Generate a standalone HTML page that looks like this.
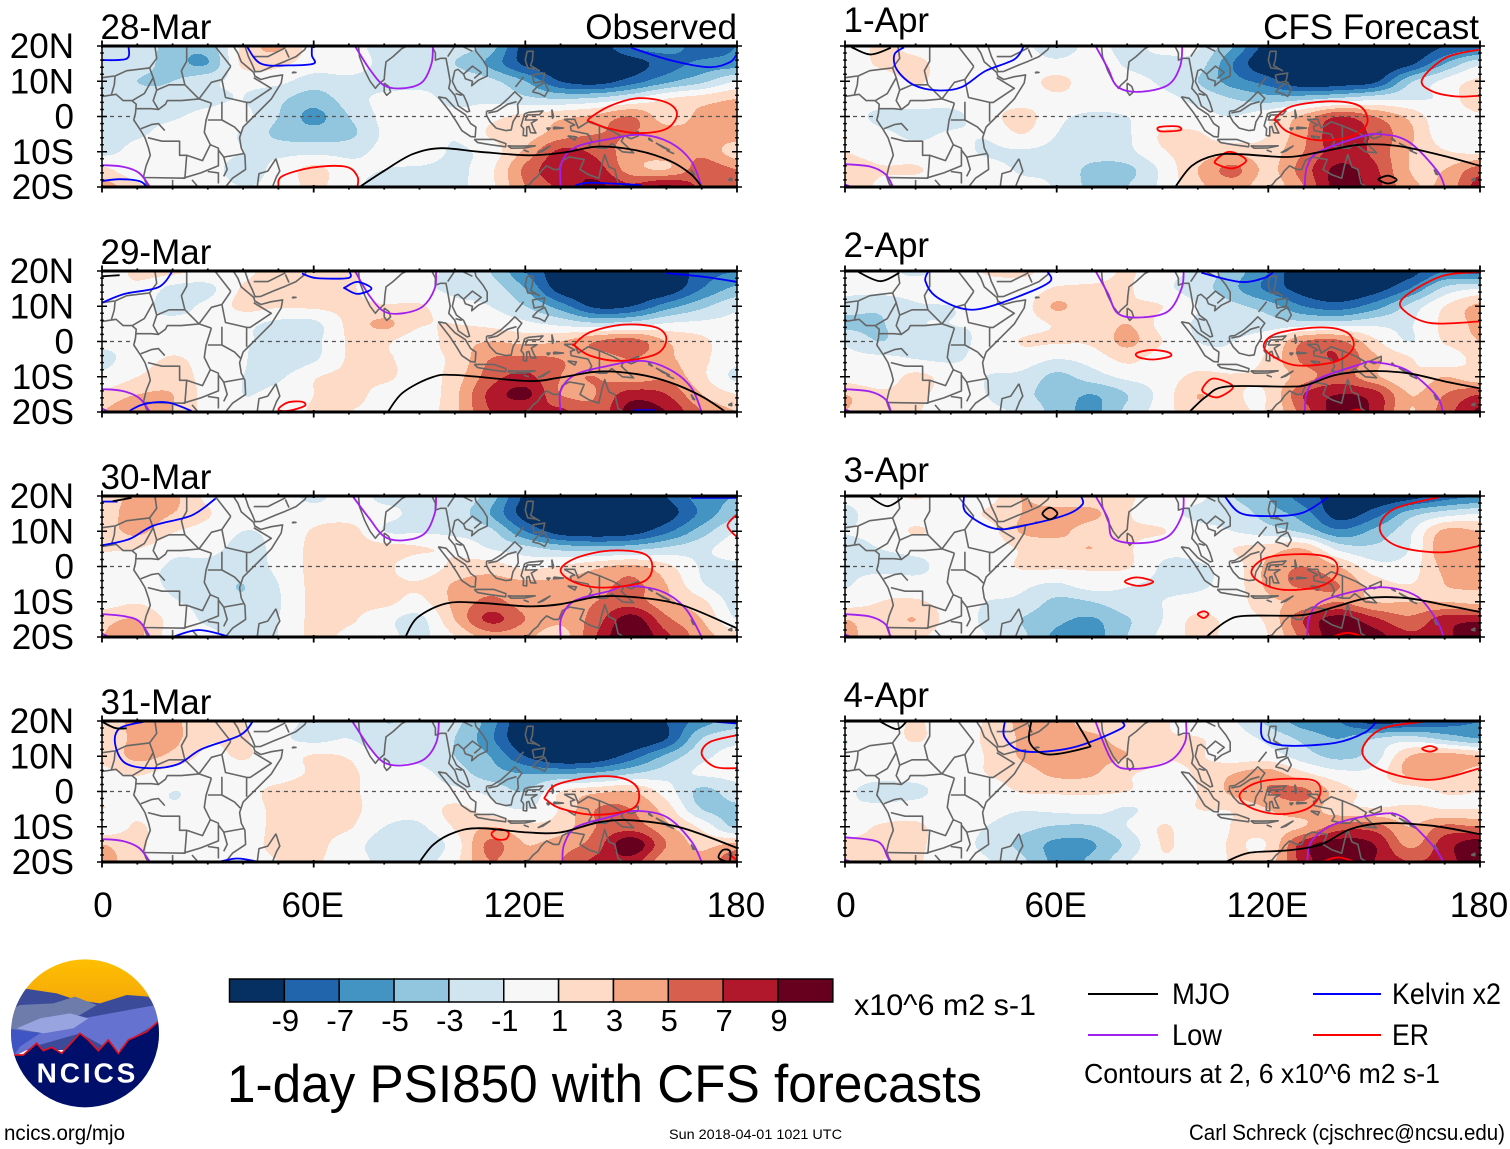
<!DOCTYPE html>
<html lang="en">
<head>
<meta charset="utf-8">
<title>1-day PSI850 with CFS forecasts</title>
<style>
html,body{margin:0;padding:0;background:#fff;}
svg{display:block;}
text{font-family:"Liberation Sans",sans-serif;fill:#000;}
</style>
</head>
<body>
<svg id="chart" xmlns="http://www.w3.org/2000/svg" width="1510" height="1149" viewBox="0 0 1510 1149">
  <rect x="0" y="0" width="1510" height="1149" fill="#fff"/>
  <g id="panels"></g>

  <g id="colorbar"></g>
  <text x="854" y="1015" font-size="30" textLength="182" lengthAdjust="spacingAndGlyphs">x10^6 m2 s-1</text>
  <text x="227" y="1102" font-size="53" textLength="755" lengthAdjust="spacingAndGlyphs">1-day PSI850 with CFS forecasts</text>

  <g>
    <line x1="1088" x2="1158" y1="994" y2="994" stroke="#000" stroke-width="2"/>
    <text x="1172" y="1004" font-size="30" textLength="58" lengthAdjust="spacingAndGlyphs">MJO</text>
    <line x1="1088" x2="1158" y1="1035" y2="1035" stroke="#a020f0" stroke-width="2"/>
    <text x="1172" y="1045" font-size="30" textLength="50" lengthAdjust="spacingAndGlyphs">Low</text>
    <line x1="1313" x2="1381" y1="994" y2="994" stroke="#0000ff" stroke-width="2"/>
    <text x="1392" y="1004" font-size="30" textLength="109" lengthAdjust="spacingAndGlyphs">Kelvin x2</text>
    <line x1="1313" x2="1381" y1="1035" y2="1035" stroke="#ff0000" stroke-width="2"/>
    <text x="1392" y="1045" font-size="30" textLength="37" lengthAdjust="spacingAndGlyphs">ER</text>
    <text x="1084" y="1083" font-size="28" textLength="356" lengthAdjust="spacingAndGlyphs">Contours at 2, 6 x10^6 m2 s-1</text>
  </g>

  <text x="4" y="1140" font-size="21" textLength="121" lengthAdjust="spacingAndGlyphs">ncics.org/mjo</text>
  <text x="669" y="1139" font-size="14" textLength="173" lengthAdjust="spacingAndGlyphs">Sun 2018-04-01 1021 UTC</text>
  <text x="1189" y="1140" font-size="22" textLength="316" lengthAdjust="spacingAndGlyphs">Carl Schreck (cjschrec@ncsu.edu)</text>

  <g transform="translate(0,950) scale(0.33333)">
    <defs>
      <clipPath id="logoClip"><circle cx="255" cy="250" r="222"/></clipPath>
      <linearGradient id="sunGrad" x1="0" y1="0" x2="0" y2="1"><stop offset="0" stop-color="#ffc000"/><stop offset="1" stop-color="#f2a20c"/></linearGradient>
    </defs>
    <g clip-path="url(#logoClip)">
      <rect x="20" y="20" width="470" height="180" fill="url(#sunGrad)"/>
      <polygon points="20,200 70,115 170,130 230,150 300,160 380,135 445,140 490,200 490,300 20,300" fill="#3c4a9a"/>
      <polygon points="30,180 60,165 160,160 225,140 290,165 240,195 100,250 25,240" fill="#6d7cab"/>
      <polygon points="20,235 130,250 100,290 40,320 20,320" fill="#3f55c4"/>
      <polygon points="250,205 330,190 470,165 490,210 385,270 350,310 240,250 100,290 40,320 60,290 120,250 220,235" fill="#6672d0"/>
      <polygon points="50,235 120,205 210,190 265,205 220,235 130,250" fill="#98a4e0"/>
      <polygon points="20,315 70,315 110,280 130,302 155,292 185,310 240,250 265,270 295,302 325,270 355,310 385,270 440,245 490,205 490,490 20,490" fill="#00106a"/>
      <polyline points="40,315 70,315 110,280 130,302 155,292 185,310 240,250 265,270 295,302 325,270 355,310 385,270 440,245 480,210" fill="none" stroke="#e01020" stroke-width="5"/>
    </g>
    <text x="258" y="398" font-size="84" font-weight="bold" text-anchor="middle" style="fill:#fff" textLength="296" lengthAdjust="spacing">NCICS</text>
  </g>
</svg>

<script>
/* ---------- Gridded PSI850 anomalies: rows lat 20,15,...,-20; columns lon 0,10,...,180 ---------- */
const gridLons = [0,10,20,30,40,50,60,70,80,90,100,110,120,130,140,150,160,170,180];
const gridLats = [20,15,10,5,0,-5,-10,-15,-20];

const psi28Mar = [
[-2,-1.5,-4,-4,1.5,3.5,0,0,-2,-2,-2,-4,-10,-11,-10.5,-7,-6,-8,-7],
[-1.5,-2,-4,-5,1.5,1.5,0,0,-1.5,-2,-3,-5.5,-9.5,-11,-11,-10,-8,-6.5,-6],
[-1.2,-3,-3,-1.5,-0.5,-0.5,-2,-1.5,-1.8,-1.5,-1.5,-2.5,-5,-9,-10,-8,-5.5,-3.5,-1],
[-1.5,-2,-2.2,-1.5,-1,-2.5,-4,-2,-0.5,-0.5,-1.5,-1.5,-2.5,-3,-2.5,-1,1,2,3],
[-1.5,-1.5,-1.2,-0.5,-0.5,-3,-5.5,-3,-0.5,0,-0.5,0.5,1.5,2.5,3.5,5,2,3.5,4],
[-1.5,-1.2,-0.5,-0.5,-1.2,-3.5,-4,-3.5,-0.7,0,-0.8,1.2,2,4,5,5,4,3.5,4],
[-1.5,-0.5,-0.5,-0.5,-1,-1.5,-1.5,-1.5,-0.5,0.5,-1.3,0,3.5,7.5,6.5,4,4,4.5,2],
[1.5,-0.5,-0.5,-0.5,-1.5,-0.5,1.5,-0.5,-1,-1.3,-1.5,0.5,5.5,8.5,8,4,3,6,5],
[4,1.5,-0.5,-0.5,-1,-0.5,1.5,-0.5,-1.5,-1.5,-1.5,0.5,5,7.5,9.5,7.5,9.5,6.5,5.5]];

const psi29Mar = [
[-0.5,1.5,1.5,0.5,0.5,2,1.5,1.5,-0.2,-0.5,-1.5,-3,-7,-10.5,-11,-11,-11,-8,-7],
[0,0.5,-1.5,-1.5,1.2,1.5,1.3,1.2,0,-0.5,-1.5,-2,-5,-10,-11,-11,-10.5,-7,-4.5],
[-0.5,-0.5,-1.5,-0.5,1.5,1.2,1.3,1.5,1.2,1.2,-0.3,-1,-3,-6,-9.5,-9,-6,-3.5,-1.5],
[0,-0.5,-0.5,-0.5,-0.5,-1.5,-1.5,1.5,3.4,1.2,1,0.5,-0.5,-1.5,-2.5,-2,-0.8,-0.5,-0.5],
[-0.5,-0.5,0.2,-0.2,-0.8,-1.5,-1.5,1.2,1.3,0,2,3,2.5,3,5,6,3,1.5,-0.5],
[-1.5,0,1.2,0.2,-0.8,-2.5,-1.3,1.2,1.2,0.5,1.5,5,5.5,5,4,5,3.5,1.5,-0.5],
[-0.5,1,2,0.2,-1,-1.3,0.8,1.5,1.5,0,2,6,7.5,5,5,4,4.5,1.5,-1.5],
[1.5,3,3,0.2,-1,-0.5,1,2,0,-0.5,2.5,7.5,9.5,5,5,8,7,3,1],
[3,5,3,0.2,-0.8,0,1.2,1,0,-0.2,2.5,7,7,7.5,5.5,10,9,5,3]];

const psi30Mar = [
[2,3.5,3.5,0.5,0,0,-1.5,0,-1.5,-1,-1.5,-4,-9.5,-11,-11,-11,-9,-6,-5],
[2,4,3,1.2,-0.5,0,0,0,-0.5,-1.5,-2,-5,-10,-11,-11,-11,-10,-6.5,-3.5],
[2,3.5,1.2,0.2,-1,-0.5,1.2,1.8,-1,-1.2,-1.5,-2.5,-7,-10,-10.5,-10,-7.5,-4,-1],
[1.2,1,-0.5,-0.5,-1.5,-0.5,1.5,1.8,1.8,1.2,0.5,-1,-2.2,-3.5,-4,-3.5,-2.5,-1.5,0],
[0,-0.3,-1.2,-1.5,-2,-0.5,1.5,1.8,1.5,-0.2,1.5,2,0.5,1.2,2.5,3.5,1.5,-1.2,-1.5],
[0,-0.3,-1.3,-2,-3,-1,1.5,1.6,1.5,1.2,3.2,4,3.5,3.5,4,5.5,3,-0.8,-2.5],
[0,0.8,-0.8,-1.5,-2.7,-1.2,1.5,1.5,1.5,0.5,3.5,5.5,4,3.5,5,6,3.5,1.5,-2],
[2.5,3,0.2,-1.3,-1.8,-1,1.5,1.3,-0.3,-1.5,3,7.5,5,3.5,6,10,5.5,3,-1],
[3,3.5,0,-0.5,-1.5,-1,1.5,0.5,-0.3,-1.5,1,4,3.5,2,7,11,7.5,4,2]];

const psi31Mar = [
[2,3.5,3.5,1.2,1,0,-1.5,-1.2,-3,-2.5,-2.5,-6,-11,-11,-11,-11,-9,-6,-4],
[1.5,3.5,3.5,1.2,1.2,-0.5,-1.5,-1,-2.5,-2,-3,-6.5,-11,-11,-11,-11,-9,-3,-1.5],
[1.5,3.5,2.5,0.5,1.2,0,1.2,0.8,-1.3,-1.5,-3,-5,-9,-11,-10.5,-8,-4.5,-1.5,-0.5],
[0.5,1.2,0,-0.5,0,-0.5,1.5,1.5,-0.5,-0.5,-2,-4,-5,-5,-4.5,-3,-1.8,-0.8,-0.5],
[0.5,0,-1,-0.5,-0.2,2,3,1.5,0,-0.5,-0.5,-1.5,-3,1,2.5,3,0,-3.5,-1.8],
[1,0.5,-0.8,0,0,1.5,1.5,1.5,0,-0.3,1.5,0,-1,1.2,5,5,2,-3,-3.5],
[-0.5,1.2,-0.3,0,0,1.5,1.5,1.2,-1,-1.3,1.2,3,1.5,2,5,6,3.5,0.5,-3.5],
[3,1.5,-0.3,-0.2,0.5,1.3,1.5,0,-2,-2.5,0,5.5,3,4,6,10.5,5,2.5,3.5],
[4,1.5,-0.3,-0.2,0.5,1,1.2,0,-1.5,-1.8,0.5,5,3,5,7.5,8,3.5,3.5,7]];

const psi1Apr = [
[-0.3,1.3,0.3,-0.3,0,-0.5,-2,-0.5,-1.5,-0.5,-0.8,-5,-10,-11,-11,-11,-11,-9,-8],
[-0.3,1.3,1.5,0,0,0,-0.5,0,-1.2,-1.5,-2,-7,-11,-11,-11,-11,-9.5,-5,-1.5],
[0,0,1.2,0,0,0,1.5,-0.2,-0.5,-1.3,-3,-6,-8,-11,-10.5,-9.5,-3.5,-0.5,1.5],
[0,0,0,-0.2,0,0,0.5,0,-0.2,-0.5,-1.5,-3,-4,-3.5,-2.5,-1.5,-1.2,-0.5,3],
[0,-1.5,-1.5,-1.5,0,1.8,-0.5,-1.3,-1,-0.3,-0.3,-1,0.5,3.5,7,5,2.5,-0.5,0.5],
[1,-0.5,-1.3,-0.8,-0.8,1,-1,-1.5,-1.2,1.2,1.2,-0.3,1,4.5,8.5,6.5,3.5,-0.3,-0.5],
[1,0,-0.3,-0.3,-1.2,-1.2,-1.5,-2,-1.5,0.8,1.8,2.5,2,5,8,6.5,3,1.2,0.5],
[2.5,1.2,1.2,0,-0.3,-1.2,-1.5,-3.5,-3.5,-0.5,3,5.5,2.5,6,9.5,7.5,3,3,6],
[3,0.5,0,0,-0.3,-0.5,-1.2,-3.5,-3,-0.5,2.5,4,2,5,10,8,3.5,3.5,8]];

const psi2Apr = [
[-0.5,-0.5,-1.3,-0.3,1.2,1.5,0,0,1.2,-0.3,-1.5,-4,-7,-11,-11,-11,-10,-7,-8],
[-0.5,-0.3,-0.3,0,0,0,1.2,1.3,1.2,-0.5,-2,-4.5,-7.5,-10,-11,-10,-7,-2.5,-1],
[-2,-2.5,-1.2,-1,-0.3,0,3.3,1.2,1.3,1,-1,-2.5,-4,-7,-8,-6,-2.5,1,3.5],
[-3.5,-3.2,-1.2,-1,-0.8,0,1.2,1.2,3,0.3,-1.2,-1.5,-2,-2,-2,-1.5,-1.2,1.5,3.5],
[-1.3,-3,-1.3,-1.3,-0.6,1.1,1.2,1.3,3.5,1,-1,-1,0.5,5,5.5,1.5,-1,1.2,3],
[-0.5,-0.5,-1,-1.2,-0.5,0,-1,-0.2,1.5,0,0,-0.3,1.5,5.5,7,3.5,1.2,-0.2,1.8],
[0,-0.3,1.5,0,-1,-1.5,-3.5,-2,-0.5,0,1.5,1.2,1.5,4,6,3.5,1.2,3,1.5],
[3,1.5,1.5,0,-1,-2.5,-3.8,-5,-3,-0.2,3,1.3,1.2,7,9,8,3,5,7],
[3,2,1.2,-0.2,-0.5,-1.5,-3.8,-5.5,-2.5,0,2.5,1.5,1.2,6,10,8.5,3,6,9.5]];

const psi3Apr = [
[-0.5,0,1.2,0,0,3,1.5,1.5,1.3,-0.2,-0.5,-3,-5,-8,-10,-11,-10,-8,-7],
[-1.5,0,0,0,1.2,3,3.8,3.5,1.2,-0.2,-1.5,-1.7,-4,-6,-10,-8,-4,-2,-1],
[-1,-0.5,1.2,0,0,3.2,3.5,2,1.3,1.1,-0.3,-1,-2,-3.5,-6.5,-4.5,-1.5,3.5,3],
[-1.3,-1,-0.5,-0.5,-0.2,1.2,2,3,1.3,-0.3,-0.3,1,2,3,-1.5,-2.5,-1,4.5,4],
[-1.2,-1.5,-1.3,-0.5,-0.3,1.2,1.3,1.3,1.2,-1.2,-1.2,0,3.5,5,3,-0.2,0,3.5,3.5],
[-1.2,0,-0.4,-0.5,0,-0.5,-1.2,0,-0.8,-1.3,-1.3,0,3.5,5.5,5,2,1,3,3.5],
[0,1,1.3,0,-1,-1.5,-3.5,-3,-1.5,-1,-0.3,0,2.5,3.5,5,3,3,3,2.5],
[3,2,3,0,-1.3,-3,-4.5,-5.2,-3.2,-1,1.5,0.5,1.5,7,10,7.5,5.5,8,8.5],
[3.5,2,1.5,-0.3,-1,-2.5,-5.5,-5.8,-3,-0.5,1.5,0.5,1,6,11,10,7.5,8.5,11]];

const psi4Apr = [
[0,0,1.2,0,1.2,3.5,4,1.8,1.2,1.2,-0.2,-0.8,-3.5,-6,-7,-10,-9,-8,-7],
[-1,-0.2,1.2,0,1.3,3.2,3.5,3.5,2,1.1,1.1,0,-1.5,-3.5,-5,-3,-2,-3.5,-5],
[-0.8,0,0,0,1.1,3.2,4,3.5,3,1.2,1.2,0,0,-2,-3.5,-2,3,4,3],
[-0.6,-0.5,-0.2,0,1,2,3.4,3.2,1.3,0.5,1.2,3,4,1.5,-0.3,-0.2,3.5,3.5,2],
[-0.8,-1.5,-1.5,0,0,1.1,1.3,1.3,1,0,1,3.5,5,5.5,2,0.3,0,1.2,1],
[-0.8,-0.5,0,0,-0.2,-0.8,-0.5,-0.2,-1.2,0,1,1.2,3,4,1.8,1.2,1.5,1,1],
[0,1.2,1.3,0,-1,-2.3,-3.2,-3.2,-1,1.1,0,1.1,2,3,6,6,3,5.5,5],
[1.5,1.3,1.3,0,-1.5,-3.5,-5.5,-5.2,-2.5,1.1,0,1.2,1.2,8,10,9,4.5,8,10.5],
[2.5,1,1.2,-0.2,-0.8,-2.5,-5.5,-4.5,-1.2,0.8,0,1.2,2,8,10.5,9,7,8,11]];

/* ---------- Wave contours as [lon, lat] lines; a line whose first point equals its last is closed ---------- */
const contours28Mar = {
 mjo:[[[73,-20],[80,-15.4],[88,-10.7],[96,-9],[107,-10],[121,-11],[131,-10.2],[141,-8.5],[152,-9.7],[161,-12.6],[167,-16.4],[170,-20]]],
 kelvin:[[[0,16],[7,16.4],[7.5,20]],[[41,20],[45,15],[53,14.5],[60,15],[59.5,17.3],[59.5,20]],[[150,19.5],[161,16],[172,14],[178,15.4],[180,17.8]],[[0,-18.3],[5,-17.8],[10.5,-18.3],[12.5,-19.7]],[[133.5,-20],[138,-18.8],[153,-19.5]]],
 low:[[[71.7,20],[75.8,13.5],[80,8.8],[85.3,8],[90.7,9.7],[93.4,15],[93.8,20]],[[0,-13.8],[5.7,-14.2],[10.5,-16],[13.6,-20]],[[130,-20],[130.2,-13.5],[134,-8.8],[143.7,-6.4],[153,-5.2],[161,-7.4],[167,-12.6],[170,-20]]],
 er:[[[138,-0.7],[144,3],[152,5.2],[160,4],[163,0.7],[160,-3.5],[152,-4.7],[144,-3.5],[139,-1.7],[138,-0.7]],[[50,-20],[51,-17],[59.4,-14.5],[69,-14.2],[72.4,-17],[72.4,-20]]]
};
const contours29Mar = {
 mjo:[[[81,-20],[85.3,-14.5],[93.4,-10.2],[100.2,-9.5],[120.6,-11.2],[130,-10.2],[141,-8.5],[152,-9.3],[161,-11.6],[169.7,-15.4],[176.4,-19.7]],[[0,18.5],[5,18.8]]],
 kelvin:[[[0,11],[6.4,13.5],[16,15.4],[20,20]],[[56.7,19.3],[60.8,18],[69.7,18],[70.3,19.7]],[[69,15.4],[72.4,16.9],[76.4,15],[72.4,13.5],[69,15],[69,15.4]],[[160,19.4],[171,18.3],[180,16.9]],[[7.8,-19.7],[11.8,-17.8],[18.6,-17.3],[25.4,-19.7]],[[150.5,-19.5],[156.7,-19.5]]],
 low:[[[71.7,20],[75.8,13],[80,8.5],[85.3,8],[91,10],[94.3,15],[94.7,20]],[[0,-13.5],[5.7,-14],[10.5,-16],[13.6,-20]],[[0,-19],[2,-20]],[[130,-20],[130,-14],[134,-9.5],[143,-7],[153,-5.5],[161,-8],[167,-13],[170,-20]]],
 er:[[[134,-0.7],[138.3,2.6],[147.8,4.8],[157,4],[160,0.7],[157,-3.6],[146.5,-5.5],[138.3,-4],[134,-1.2],[134,-0.7]],[[50,-19.3],[52.6,-17.3],[56.7,-17.1],[57.4,-18.3],[52.6,-19.7],[50,-19.3]]]
};
const contours30Mar = {
 mjo:[[[86,-20],[89.4,-14.5],[97.5,-10.5],[107,-10.3],[120.6,-11.3],[130,-10.7],[141,-8.5],[152,-8.8],[164.6,-11],[180,-17.5]],[[3,18.5],[8.4,19.5]]],
 kelvin:[[[0,6],[7.8,7.8],[14.6,11.6],[25.4,14.5],[32.2,19.3]],[[167,19.5],[180,19.5]],[[20,-20],[27.5,-18],[36.3,-20]],[[0,18.4],[4.4,18.4]]],
 low:[[[71,20],[75.8,13.6],[80,8.5],[85.3,7.4],[91.4,9.3],[94.3,15],[94.7,20]],[[0,-13.5],[5.7,-14],[10.5,-15.5],[13.6,-20]],[[0,-19],[2,-20]],[[130,-20],[130.2,-14.5],[134,-9.7],[143.7,-7],[149,-5.5],[158.5,-7],[165.3,-11.8],[170,-20]]],
 er:[[[130,-1],[134.6,2.5],[144,4.5],[153.4,3.7],[156,0],[153.4,-4.3],[142.4,-6],[134,-4.5],[130,-1]],[[180,14.8],[177.3,11.6],[180,8.3]]]
};
const contours31Mar = {
 mjo:[[[90,-20],[94,-15],[100,-11.6],[107,-10.4],[120.6,-11.6],[130,-11.6],[141,-8.7],[150.5,-8.2],[164,-10.2],[180,-16]],[[0,19.8],[3.7,18],[7,17.9]],[[174.8,-18.8],[176,-16.6],[178,-16.9],[177.7,-19.8],[174.8,-18.8]]],
 kelvin:[[[11.8,19.8],[5,17.9],[3.7,13.5],[6.4,8.2],[13.2,6.6],[21.4,7.7],[28.2,12],[39,15.9],[42.7,19.8]],[[173.7,19.8],[180,19.3]],[[33,-20],[38.4,-19],[44.5,-20]]],
 low:[[[71,19.8],[75.8,12.6],[80,8.2],[85.3,7.4],[91.4,9.2],[94.8,14],[95.5,19.8]],[[0,-13.5],[5.7,-14],[10.5,-16],[13.6,-20]],[[130.5,-20],[131,-15],[134.4,-10.1],[144,-7.2],[150.7,-5.5],[160,-7.2],[167,-14],[170,-20]]],
 er:[[[125.7,-1.4],[129,2],[139.7,4.2],[147.8,3.7],[152,0.5],[150.5,-4.8],[139.7,-6.6],[130,-4.8],[126,-2.4],[125.7,-1.4]],[[110.4,-12],[112.4,-10.6],[115.2,-11.6],[114.5,-13.5],[111.8,-13.5],[110.4,-12]],[[180,16],[172.3,14],[170,10.6],[173.7,7],[180,6.6]],[[178,-18],[180,-19.5]]]
};
const contours1Apr = {
 mjo:[[[93.6,-20],[98.3,-14],[105,-11],[112,-10.7],[125.5,-11.5],[135,-10],[146,-8],[157,-8.4],[169,-11],[180,-14]],[[1.8,19.7],[7.2,17.6],[13,19.5]],[[151.4,-17.6],[154,-16.8],[156.4,-18],[154,-19],[151.6,-18.2],[151.4,-17.6]]],
 kelvin:[[[16.7,19.6],[14,17.6],[14.7,13.3],[19.4,9],[26.2,7.4],[33,8.3],[39.8,12.9],[48,16.2],[50.7,20]]],
 low:[[[71,20],[74.5,13.7],[77.3,8.4],[83.4,7],[91.5,8.9],[95,14.2],[95.6,20]],[[0,-13.5],[7.2,-14.2],[11.6,-16.5],[13.6,-20]],[[0,-19.3],[1.8,-20]],[[130.3,-20],[131,-14.2],[134.4,-10],[146,-5.8],[151.4,-5],[159.5,-7],[167.7,-15.2],[170,-20]]],
 er:[[[122,-0.5],[126.7,2.9],[137.8,4.3],[146,2.9],[148,-2],[143,-5.8],[133.7,-6.7],[125.5,-4.3],[122.5,-1.5],[122,-0.5]],[[89,-3],[94.2,-2.8],[95,-3.9],[89.5,-4.2],[89,-3]],[[105,-12.5],[109,-10],[113.7,-12.4],[110,-14.7],[105.8,-13.7],[105,-12.5]],[[180,19],[170.4,16.7],[163.6,10.5],[166.3,7.2],[173,5.7],[180,5.9]]]
};
const contours2Apr = {
 mjo:[[[97.6,-20],[102.4,-15.6],[108,-12.8],[125.5,-12.8],[131,-12.3],[139,-9.5],[148.6,-8.4],[159.5,-9],[170.4,-11.4],[180,-13.3]],[[3.8,19.7],[10,17.1],[15.4,19.5]]],
 kelvin:[[[23.5,19.7],[22.8,17.1],[25.6,12.9],[33,9.4],[39.8,9.6],[52,13.9],[58.2,17.1],[57.5,19.7]],[[101,19.5],[112,16.9],[118.7,18],[121.4,19.7]]],
 low:[[[71,20],[74.5,13.7],[77.3,8],[83.4,6.8],[91.5,8.5],[95.4,15],[96,20]],[[0,-13.5],[7.2,-14.2],[11.6,-16.5],[13,-20]],[[0,-19.3],[1.8,-20]],[[130.3,-20],[131,-14.2],[134.4,-10.5],[146,-6.5],[149.5,-5.8],[159,-8],[167.5,-15.2],[169.5,-20]]],
 er:[[[118.7,-1],[122.8,2.4],[135,4],[142.5,2.4],[144,-1.9],[139,-5.7],[128.3,-6.8],[121.5,-4.3],[118.7,-1]],[[82.7,-3.3],[86.8,-2.4],[91.5,-3],[92.2,-4.2],[87.4,-5.1],[83.3,-4.5],[82.7,-3.3]],[[101.3,-13.4],[104.4,-10.5],[110,-12.8],[105.8,-15.8],[102.4,-14.9],[101.3,-13.4]],[[180,19.7],[169,18.5],[158.2,12.3],[158.8,8.5],[166.3,5.2],[180,5.7]],[[142.5,-20],[145.2,-19.3],[147.3,-20]]]
};
const contours3Apr = {
 mjo:[[[102.4,-20],[108,-15.6],[113.3,-14],[129.6,-13.8],[139,-11.4],[148.6,-8.9],[159.5,-9],[170.4,-11],[180,-12.9]],[[7.2,19.7],[12,17.1],[16.3,19.5]],[[56.2,15.5],[58.2,16.7],[60.2,15],[58.2,13.4],[56.2,14.5],[56.2,15.5]]],
 kelvin:[[[33.7,19.7],[34.4,15.2],[42.6,10.7],[52,11.9],[63,14.8],[67.3,17.6],[67,19.7]],[[107.8,19.7],[112,15.2],[120,14.3],[129.6,15.2],[137,19.7]]],
 low:[[[71,20],[74.5,13.7],[76,8],[83.4,6.6],[91.5,8.5],[95.5,14.5],[96,20]],[[0,-13.5],[7.2,-14.2],[11.6,-16.5],[12.8,-20]],[[0,-19.3],[1.8,-20]],[[131,-20],[131.6,-14.5],[135,-10],[146,-6.7],[154,-6],[162.3,-8.6],[167.7,-15.2],[169.7,-20]]],
 er:[[[115.3,-1],[120,2.6],[131,3.5],[138.5,1.9],[139.2,-2.4],[134.4,-5.7],[124.2,-6.6],[117.4,-4.3],[115.3,-1]],[[79.3,-4.3],[82.7,-3.1],[87.4,-4.3],[83.3,-5.5],[79.3,-4.3]],[[100,-13.5],[101.7,-12.7],[103,-13.5],[101.7,-14.6],[100,-13.5]],[[168.4,19.7],[155.4,16.2],[151.6,10.5],[156.8,5.7],[169,4],[180,5.9]],[[137.8,-20],[142.5,-18.8],[147.3,-20]]]
};
const contours4Apr = {
 mjo:[[[107.8,-20],[114.6,-17.4],[125.5,-16.7],[135,-15],[143.2,-10.7],[152.7,-9],[166.3,-9.7],[180,-12.1]],[[10,19.8],[14.7,17.7],[17.4,19.8]],[[52.8,19.8],[52.4,13.8],[57.5,10.5],[68.4,12.4],[69,13.8],[65.5,19.8]]],
 kelvin:[[[45.3,19.8],[45.3,15.3],[50.7,11.4],[64.3,12.4],[78,17.7],[78.6,19.8]],[[118,19.8],[118.7,14.8],[125.5,13],[139,13.8],[147.3,16.7],[150.7,19.8]]],
 low:[[[71,19.8],[75.8,8.6],[81.3,6.4],[91.5,8.3],[96.3,13.8],[96.7,19.8]],[[0,-13],[9.2,-14.2],[12,-18.4],[12.6,-20]],[[0,-19.4],[1.8,-20]],[[131,-20],[132.3,-14],[139,-9.2],[151.4,-6.4],[158.2,-7.3],[166.3,-15],[169.7,-20]]],
 er:[[[112,-0.6],[118.7,3],[132.3,3.3],[134.7,-0.6],[131,-4.9],[122.8,-6.4],[114.6,-4.4],[112,-0.6]],[[164,19.8],[152,17.7],[146.6,11.4],[152,6.1],[165.8,3.3],[180,6.6]],[[163.6,12.1],[165.8,12.9],[167.8,12.1],[165.8,11.3],[163.6,12.1]],[[135,-20],[139.8,-18.7],[144.6,-20]]]
};

/* ---------- Geography (lon, lat) ---------- */
const coastlines = [
 [[0,5.7],[4,6.3],[6,4.5],[8.5,4.5],[9.7,3.5],[9.5,1],[9,-1],[11,-4],[12.2,-6],[13.2,-9],[13.7,-11],[12.5,-14],[11.8,-17],[12.5,-19],[13.2,-20]],
 [[37.2,20],[38.5,18],[39.5,15.5],[43,12.5],[43.3,11.5],[45,10.5],[48,11.3],[51.2,11.8],[50.8,9.5],[48,5],[45,2],[42,-1],[40,-3],[39,-6],[39.5,-9],[40.5,-11],[40.7,-15],[37,-17.5],[35,-20]],
 [[40.5,20],[41.5,17],[42.7,14.5],[43.4,12.7],[45,12.8],[49,14.5],[52,15.7],[55,17],[57.5,19],[58,20]],
 [[49.3,-12],[50.4,-15.5],[49.5,-17],[48.3,-20]],[[49.3,-12],[47,-15.5],[44.5,-16.2],[44,-20]],
 [[72.7,20],[73,17],[74.5,13],[76,10],[77.5,8],[78.3,9],[80,10.5],[80.2,13],[80.5,15.5],[82.5,17],[85,19.3],[86.5,20]],
 [[80,9.5],[81.3,8.5],[81.8,7],[80.7,6],[80,7],[80,9.5]],
 [[93.5,20],[94.5,18],[94.5,16],[96,16.5],[97.5,16.5],[98,14],[98.7,10],[98.3,8],[100,6],[101,3],[103.5,1.3],[104.2,1.5],[103.4,4],[102.5,6],[100.5,7.5],[99.3,10],[100,13],[100.9,13.4],[102.5,12],[103,10.7],[105,10],[104.8,8.7],[106.7,10.3],[109.2,11.5],[109.2,14],[108,16],[106,18.5],[105.7,20]],
 [[95.3,5.6],[97.5,5.2],[100,2.5],[103,0.5],[104.5,-2],[106,-3],[105.8,-5.8],[104.5,-5.7],[102,-4],[100.5,-1.5],[98.5,1.5],[95.3,5.6]],
 [[105.5,-6.5],[108.5,-6.5],[111,-6.5],[114.5,-7.7],[114.4,-8.6],[110,-8],[106.5,-7.4],[105.5,-6.5]],
 [[115,-8.3],[116.5,-8.4],[119,-8.4],[122.8,-8.3],[120,-8.9],[116,-9],[115,-8.3]],
 [[123.5,-10.3],[127,-8.4],[125,-9.8],[123.5,-10.3]],[[119.5,-9.5],[120.8,-10],[119.5,-9.5]],
 [[109,1.5],[110.5,1.7],[113,3.2],[115,5],[117,7],[119,5.2],[117.8,3.5],[118,1],[116.5,-1.5],[116,-3.8],[114.5,-4],[111.7,-3.3],[110,-1.5],[109,0.3],[109,1.5]],
 [[119.8,0.8],[121,1.2],[125,1.6],[124,0.5],[120.5,0.4],[120,-1],[121.5,-1],[123.3,-0.9],[121.7,-1.9],[122.3,-3.3],[123,-4.7],[121.5,-4.6],[121,-2.8],[120.4,-3],[120.4,-5.5],[119.4,-5.4],[119.5,-3.5],[118.8,-2.6],[119.8,0.8]],
 [[120.5,18.5],[122.2,18.5],[122,16],[121.5,14.5],[124,13],[123,13.5],[120.7,13.8],[120,16],[120.5,18.5]],
 [[122,11.8],[125.5,12.3],[125,10],[122.5,9.5],[122,11.8]],
 [[122,7],[123.5,8.6],[125.5,9.7],[126.5,7.5],[125.5,5.7],[124,6.5],[122,7]],
 [[117.2,8.4],[119.5,11.3]],
 [[131,-0.8],[134,-0.8],[135,-3.3],[137.8,-1.5],[141,-2.6],[145,-4.3],[147.8,-6],[147.2,-7],[150.7,-10.3],[147.5,-10],[144.5,-7.7],[143,-9],[141,-9],[138,-8.3],[138.8,-7],[137.8,-5],[133,-4],[132.8,-2.8],[134,-2.4],[131,-0.8]],
 [[148.5,-5.7],[152,-4.2],[152,-5.5],[150,-6.3],[148.5,-5.7]],
 [[127.5,2],[128,0],[127.7,-0.5],[127.5,2]],[[128,-3],[130.8,-3.3],[128,-3.5],[128,-3]],[[126,-3.3],[127,-3.3],[126.5,-3.8],[126,-3.3]],
 [[132,-5.5],[134.5,-5.8],[134,-6.7],[132,-5.5]],
 [[155,-6],[156,-7],[155,-6.5],[155,-6]],[[157,-7.5],[160.8,-9.5],[159,-8.8],[157,-7.5]],[[160,-9.6],[162,-10.5],[160,-9.6]],
 [[167,-15],[167.5,-16.3],[168,-16.5],[167,-15]],
 [[177.5,-18],[178.5,-17.5],[178.5,-18.2],[177.5,-18]],
 [[118.5,-20],[121,-19.5],[122.2,-18],[123.5,-17],[124.5,-15.5],[126,-14],[128,-15],[129.5,-15],[130.5,-12.5],[132.5,-11.5],[135.5,-12],[136.7,-12.2],[135.5,-15],[138,-16.5],[140.8,-17.5],[141.6,-14],[142.5,-10.8],[143.7,-14.3],[145.4,-15],[146.3,-19],[148.5,-20.3]],
 [[54,12.6],[55,12.5],[54,12.4],[54,12.6]]
];
const borderlines = [
 [[0,11],[3.5,11.5]],
 [[2.7,6.3],[3.5,9],[3.7,11.5],[7,13],[13.5,13.8],[14.5,11],[12,6.5],[8.7,4.6]],
 [[13.5,13.8],[15.5,16.5],[15,20]],
 [[24,20],[24,15.7],[22.5,13],[23.5,9],[27.5,5],[31,3.8]],
 [[15.5,7.5],[19,9],[23.5,9]],
 [[36.5,14.2],[34,10.5],[35,5.4],[41,4],[42,4],[48,8],[43,11]],
 [[34,10.5],[31,9.7],[27.5,5]],[[41,4],[41,-1.5]],
 [[34,4.2],[34,-1],[37.6,-3],[39.2,-4.7]],[[30,-1],[34,-1]],
 [[31,3.8],[29.5,-1],[29,-4.5],[30.7,-8],[28.5,-12.5],[24,-11],[22,-11],[22,-7],[17,-7],[13,-6]],
 [[14.5,11],[15.5,7.5],[14.5,4.5],[16,2],[18,3.5],[18.5,4.5],[22.5,4.5],[27.5,5]],
 [[16,2],[14,2.2],[9.8,2.2]],[[17.8,-4],[16,-2],[14,-2.3],[11,-3.5]],
 [[12,-17.3],[23.5,-17.5],[24,-11]],
 [[23,-17.5],[28,-16],[33,-14],[33,-9],[30.7,-8]],[[34.7,-11.5],[40.3,-10.5]],
 [[33,-9.5],[34.5,-11.5],[35.5,-15],[34.5,-17]],
 [[25.5,-18],[29,-22]],[[33,-19],[33,-16],[30,-15.6]],
 [[20,-22],[20,-18]],
 [[32,20],[36.5,14.2]],[[43,17],[47,17],[52,19.5]],[[52,19],[53,16.7]],
 [[98,17],[100,20]],[[105,18.5],[102,20]],[[102.5,12],[105,14.3],[107.5,12.5],[105.5,10.8]],[[100.2,6.5],[102,6]],
 [[141,-2.6],[141,-9]],[[109.5,1],[112,1.5],[115,3.5],[117.5,4.2]]
];

/* ---------- Panels, labels, colour scale ---------- */
const panelTitles = ["28-Mar","29-Mar","30-Mar","31-Mar","1-Apr","2-Apr","3-Apr","4-Apr"];
const panelGrids = [psi28Mar,psi29Mar,psi30Mar,psi31Mar,psi1Apr,psi2Apr,psi3Apr,psi4Apr];
const panelContours = [contours28Mar,contours29Mar,contours30Mar,contours31Mar,contours1Apr,contours2Apr,contours3Apr,contours4Apr];
const yTickLats = [20,10,0,-10,-20];
const yTickLabels = ["20N","10N","0","10S","20S"];
const xTickLons = [0,60,120,180];
const xTickLabels = ["0","60E","120E","180"];
const levels = [-9,-7,-5,-3,-1,1,3,5,7,9];
const levelLabels = ["-9","-7","-5","-3","-1","1","3","5","7","9"];
const bandColors = ["#053061","#2166ac","#4393c3","#92c5de","#d1e5f0","#f7f7f7","#fddbc7","#f4a582","#d6604d","#b2182b","#67001f"];
const seriesColors = {mjo:"#000000",kelvin:"#0000ff",low:"#a020f0",er:"#ff0000"};
const equatorSegments = [[0,9.5],[42.5,180]];

const SVGNS = "http://www.w3.org/2000/svg";
const PANEL_W = 635, PANEL_H = 141;
function make(tag, attrs, parent){
  const el = document.createElementNS(SVGNS, tag);
  for(const k in attrs) el.setAttribute(k, attrs[k]);
  parent.appendChild(el);
  return el;
}
function panelX0(i){ return i < 4 ? 102 : 845; }
function panelY0(i){ return 46 + 225 * (i % 4); }
function xScale(i, lon){ return panelX0(i) + lon / 180 * PANEL_W; }
function yScale(i, lat){ return panelY0(i) + (20 - lat) / 40 * PANEL_H; }
function cubic(a,b,c,d,t){
  return b + 0.5*t*(c-a + t*(2*a-5*b+4*c-d + t*(3*(b-c)+d-a)));
}
function bandIndex(v){
  let k = 0;
  while(k < levels.length && v >= levels[k]) k++;
  return k;
}
function smoothPath(i, pts){
  const p = pts.map(q => [xScale(i,q[0]), yScale(i,q[1])]);
  const closed = pts.length > 3 && pts[0][0] === pts[pts.length-1][0] && pts[0][1] === pts[pts.length-1][1];
  if(closed) p.pop();
  const n = p.length;
  const at = j => closed ? p[(j+n)%n] : p[Math.max(0,Math.min(n-1,j))];
  let d = "M" + p[0][0].toFixed(1) + " " + p[0][1].toFixed(1);
  const segs = closed ? n : n-1;
  for(let j=0;j<segs;j++){
    const a=at(j-1),b=at(j),c=at(j+1),e=at(j+2);
    d += "C"+(b[0]+(c[0]-a[0])/6).toFixed(1)+" "+(b[1]+(c[1]-a[1])/6).toFixed(1)+" "
            +(c[0]-(e[0]-b[0])/6).toFixed(1)+" "+(c[1]-(e[1]-b[1])/6).toFixed(1)+" "
            +c[0].toFixed(1)+" "+c[1].toFixed(1);
  }
  return d + (closed ? "Z" : "");
}
function linePath(i, pts){
  return pts.map((q,j)=>(j?"L":"M")+xScale(i,q[0]).toFixed(1)+" "+yScale(i,q[1]).toFixed(1)).join("");
}
function fieldPaths(i, grid){
  const nr = gridLats.length, nc = gridLons.length;
  const paths = bandColors.map(()=>[]);
  const colVals = new Array(nc);
  for(let py=0; py<PANEL_H; py++){
    const lat = 20 - (py+0.5)/PANEL_H*40;
    const fr = (gridLats[0]-lat)/(gridLats[0]-gridLats[1]);
    const r = Math.min(nr-2, Math.floor(fr)), tr = fr-r;
    for(let c=0;c<nc;c++){
      const g = j => grid[Math.max(0,Math.min(nr-1,j))][c];
      colVals[c] = cubic(g(r-1),g(r),g(r+1),g(r+2),tr);
    }
    let runStart = 0, runBand = -1;
    for(let px=0; px<=PANEL_W; px++){
      let b = -2;
      if(px<PANEL_W){
        const lon = (px+0.5)/PANEL_W*180;
        const fc = (lon-gridLons[0])/(gridLons[1]-gridLons[0]);
        const c = Math.min(nc-2, Math.floor(fc)), tc = fc-c;
        const h = j => colVals[Math.max(0,Math.min(nc-1,j))];
        b = bandIndex(cubic(h(c-1),h(c),h(c+1),h(c+2),tc));
      }
      if(b !== runBand){
        if(runBand >= 0) paths[runBand].push("M"+(panelX0(i)+runStart)+" "+(panelY0(i)+py)+"h"+(px-runStart)+"v1h"+(runStart-px)+"z");
        runBand = b; runStart = px;
      }
    }
  }
  return paths;
}

const root = document.getElementById("panels");
panelTitles.forEach((title,i)=>{
  const slug = title.toLowerCase();
  const g = make("g",{},root);
  
  
  const clip = make("clipPath",{id:"clip"+i},g);
  make("rect",{x:panelX0(i),y:panelY0(i),width:PANEL_W,height:PANEL_H},clip);

  const field = make("g",{"shape-rendering":"crispEdges"},g);
  
  
  fieldPaths(i,panelGrids[i]).forEach((parts,b)=>{
    if(!parts.length) return;
    const band = make("path",{d:parts.join(""),fill:bandColors[b]},field);
    
    
  });

  const body = make("g",{"clip-path":"url(#clip"+i+")"},g);
  const map = make("path",{d:coastlines.concat(borderlines).map(l=>linePath(i,l)).join(""),fill:"none",stroke:"#666","stroke-width":1.6,"stroke-linejoin":"round"},body);
  
  
  equatorSegments.forEach(s=>{
    const eq = make("line",{x1:xScale(i,s[0]),x2:xScale(i,s[1]),y1:yScale(i,0),y2:yScale(i,0),stroke:"#555","stroke-width":1.3,"stroke-dasharray":"4 4"},body);
    
    
  });
  ["low","kelvin","er","mjo"].forEach(key=>{
    panelContours[i][key].forEach(line=>{
      const c = make("path",{d:smoothPath(i,line),fill:"none",stroke:seriesColors[key],"stroke-width":1.8},body);
      
      
    });
  });

  /* frame and ticks */
  const x0 = panelX0(i), y0 = panelY0(i), x1 = x0+PANEL_W, y1 = y0+PANEL_H;
  let ticks = "";
  for(let lon=0; lon<=180; lon+=10){
    const x = xScale(i,lon).toFixed(1);
    const len = lon%60===0 ? 5.5 : 2.5;
    ticks += "M"+x+" "+(y0-len)+"V"+(y0+(lon%60===0?2:0))+"M"+x+" "+(y1-(lon%60===0?2:0))+"V"+(y1+len);
  }
  const ticksEl = make("path",{d:ticks,stroke:"#000","stroke-width":1.8,fill:"none"},g);
  
  
  let yt = "";
  for(let lat=-20; lat<=20; lat+=2){
    const y = yScale(i,lat).toFixed(1);
    const len = lat%10===0 ? 5 : 1.8;
    yt += "M"+(x0-len)+" "+y+"H"+(x0+len)+"M"+(x1-len)+" "+y+"H"+(x1+len);
  }
  const yticksEl = make("path",{d:yt,stroke:"#000","stroke-width":1.5,fill:"none"},g);
  
  
  const frame = make("path",{d:"M"+x0+" "+y0+"H"+x1+"M"+x0+" "+y1+"H"+x1,stroke:"#000","stroke-width":3,fill:"none"},g);
  
  
  const frameV = make("path",{d:"M"+x0+" "+y0+"V"+y1+"M"+x1+" "+y0+"V"+y1,stroke:"#000","stroke-width":1.5,fill:"none"},g);
  
  

  /* labels */
  const t = make("text",{x:x0-1.5,y:y0-(i<4?7:14),"font-size":35},g);
  
  
  t.textContent = title;
  if(i<4){
    yTickLats.forEach((lat,k)=>{
      const yl = make("text",{x:74,y:yScale(i,lat)+12,"font-size":35,"text-anchor":"end"},g);
      
      
      yl.textContent = yTickLabels[k];
    });
  }
  if(i%4===3){
    xTickLons.forEach((lon,k)=>{
      const xl = make("text",{x:xScale(i,lon)+(lon===0?1:-1),y:917,"font-size":35,"text-anchor":"middle"},g);
      
      
      xl.textContent = xTickLabels[k];
    });
  }
});
const obs = make("text",{x:737,y:39,"font-size":35,"text-anchor":"end"},root);


obs.textContent = "Observed";
const fc = make("text",{x:1479,y:39,"font-size":35,"text-anchor":"end"},root);


fc.textContent = "CFS Forecast";

/* colour bar */
const cb = document.getElementById("colorbar");
const cbX0 = 229.5, cbW = 54.85;
bandColors.forEach((col,k)=>{
  const box = make("rect",{x:cbX0+k*cbW,y:979,width:cbW,height:23,fill:col,stroke:"#000","stroke-width":1.5},cb);
  
  
});
levelLabels.forEach((lab,k)=>{
  const tx = make("text",{x:cbX0+(k+1)*cbW+1,y:1031,"font-size":31,"text-anchor":"middle"},cb);
  
  
  tx.textContent = lab;
});
</script>
</body>
</html>
